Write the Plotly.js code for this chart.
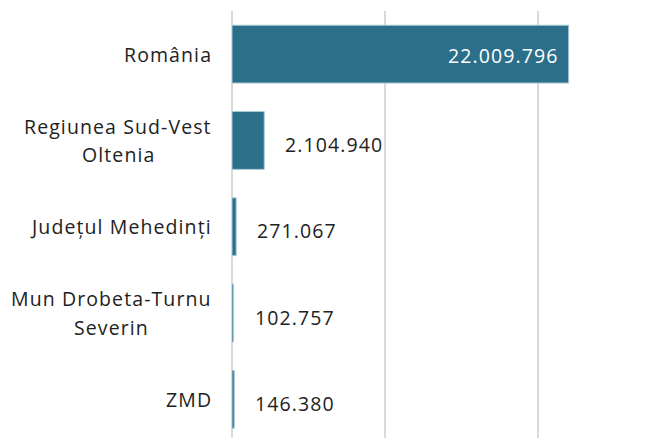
<!DOCTYPE html>
<html>
<head>
<meta charset="utf-8">
<script src="https://cdn.plot.ly/plotly-3.0.1.min.js"></script>
<style>
html,body{margin:0;padding:0;background:#fff;}
#chart{width:671px;height:438px;}
text{letter-spacing:1.1px;}
</style>
</head>
<body>
<div id="chart"></div>
<script>
const categories = ["România", "Regiunea Sud-Vest<br>Oltenia", "Județul Mehedinți", "Mun Drobeta-Turnu<br>Severin", "ZMD"];
const values = [22009796, 2104940, 271067, 102757, 146380];
const valueLabels = ["22.009.796", "2.104.940", "271.067", "102.757", "146.380"];

const barColor = "#2b6f8b";
const fontFam = "'Open Sans', 'Noto Sans', sans-serif";
const catSize = 19.5;
const lineGap = 28.5;
const labelGap = 20;

// measure text width with the same font settings
const NS = "http://www.w3.org/2000/svg";
const mSvg = document.createElementNS(NS, "svg");
mSvg.setAttribute("style", "position:absolute;left:-9999px;top:-9999px;");
document.body.appendChild(mSvg);
function textWidth(t) {
  const el = document.createElementNS(NS, "text");
  el.setAttribute("style", "font-family:" + fontFam + ";font-size:" + catSize + "px;");
  el.textContent = t;
  mSvg.appendChild(el);
  const w = el.getBBox().width;
  mSvg.removeChild(el);
  return w;
}

const trace = {
  type: "bar",
  orientation: "h",
  y: categories,
  x: values,
  marker: {color: barColor, line: {color: "#a6c8d6", width: 1}},
  hoverinfo: "none"
};

const annotations = [];
categories.forEach((c, i) => {
  const lines = c.split("<br>");
  const blockW = Math.max(...lines.map(textWidth));
  lines.forEach((ln, k) => {
    annotations.push({
      xref: "paper", yref: "y", x: 0, y: c,
      xanchor: "center", yanchor: "middle",
      xshift: -labelGap - blockW / 2,
      yshift: -(k - (lines.length - 1) / 2) * lineGap,
      text: ln, showarrow: false, align: "center",
      font: {family: fontFam, size: catSize, color: "#222222"}
    });
  });
  const inside = i === 0;
  annotations.push({
    xref: "x", yref: "y", x: values[i], y: c,
    xanchor: inside ? "right" : "left", yanchor: "middle",
    xshift: inside ? -9 : 19, yshift: inside ? -1 : -4,
    text: valueLabels[i], showarrow: false,
    font: {family: fontFam, size: 19.5, color: inside ? "#ffffff" : "#222222"}
  });
});

const layout = {
  width: 671, height: 438,
  margin: {l: 232, r: 0, t: 11, b: 0, pad: 0},
  paper_bgcolor: "#ffffff", plot_bgcolor: "#ffffff",
  showlegend: false,
  bargap: 0.33,
  xaxis: {
    range: [0, 28700000], dtick: 10000000, tick0: 0,
    showgrid: true, gridcolor: "#d9d9d9", gridwidth: 1.5,
    zeroline: true, zerolinecolor: "#d9d9d9", zerolinewidth: 2,
    showticklabels: false, ticks: "", showline: false, fixedrange: true
  },
  yaxis: {
    type: "category", categoryorder: "array", categoryarray: categories,
    range: [4.448, -0.5],
    showticklabels: false, showgrid: false, zeroline: false, ticks: "", showline: false
  },
  annotations: annotations
};

Plotly.newPlot("chart", [trace], layout, {displayModeBar: false, staticPlot: true});
</script>
</body>
</html>
